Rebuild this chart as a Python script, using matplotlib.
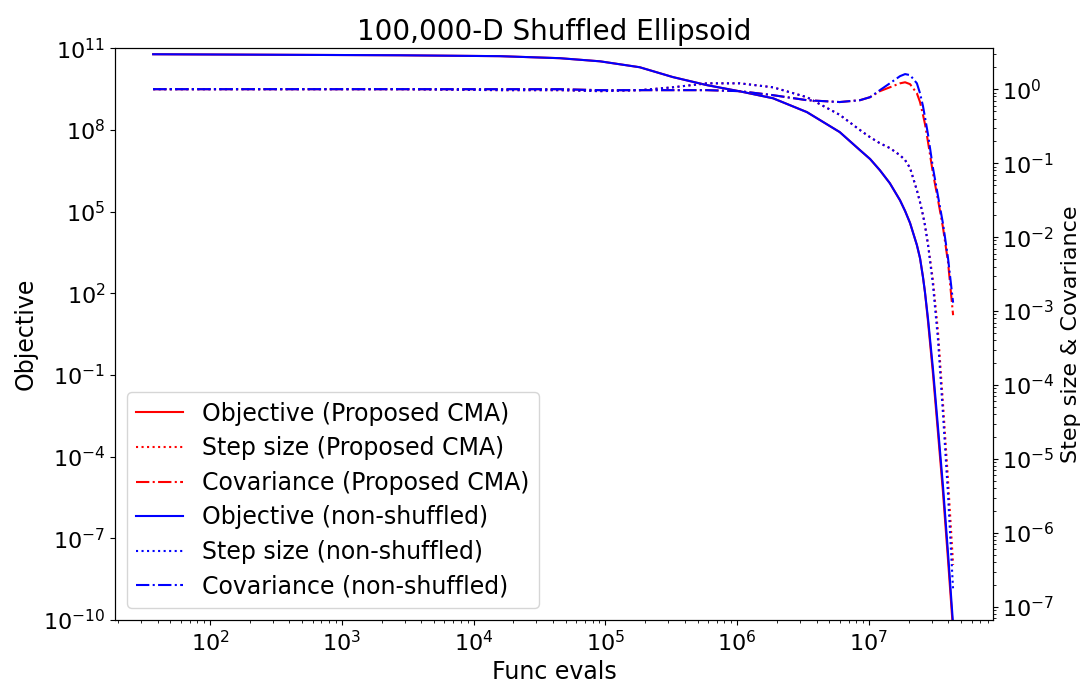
import numpy as np
import matplotlib
matplotlib.use('Agg')
import matplotlib.pyplot as plt

# function evaluations (shared grid for all traces)
evals = [37, 2.75e3, 1.58e4, 4.5e4, 9.1e4, 1.82e5, 3.25e5, 5.9e5, 1.05e6, 1.87e6,
         3.38e6, 6.0e6, 8.55e6, 1.02e7, 1.21e7, 1.44e7, 1.72e7, 1.88e7, 2.05e7,
         2.31e7, 2.44e7, 2.57e7, 2.66e7, 2.81e7, 3.06e7, 3.34e7, 3.65e7, 3.98e7, 4.35e7]

# proposed CMA (shuffled)
obj_prop = [6.0e10, 5.5e10, 5.1e10, 4.3e10, 3.3e10, 2.0e10, 8.7e9, 4.4e9, 2.6e9, 1.45e9,
            4.5e8, 8.3e7, 1.8e7, 8.5e6, 3.3e6, 1.1e6, 2.6e5, 1.05e5, 3.8e4,
            5.9e3, 1.95e3, 3.9e2, 1.1e2, 8.5, 0.11, 7.5e-4, 4.5e-6, 1.6e-8, 4.0e-11]
step_prop = [1.0, 1.0, 0.97, 0.97, 0.94, 0.97, 1.06, 1.2, 1.2, 1.06,
             0.78, 0.45, 0.28, 0.224, 0.186, 0.16, 0.128, 0.11, 0.086,
             0.043, 0.0297, 0.0198, 0.0145, 7.8e-3, 2.6e-3, 5.3e-4, 5.4e-5, 5.2e-6, 3.7e-7]
cov_prop = [1.0, 1.0, 1.0, 1.0, 0.97, 0.97, 0.97, 0.97, 0.94, 0.83,
            0.71, 0.67, 0.71, 0.78, 0.94, 1.06, 1.2, 1.24, 1.17,
            0.88, 0.67, 0.45, 0.34, 0.19, 0.073, 0.032, 0.0133, 4.6e-3, 8.8e-4]

# non-shuffled
obj_non = [6.0e10, 5.5e10, 5.1e10, 4.3e10, 3.3e10, 2.0e10, 8.7e9, 4.4e9, 2.6e9, 1.45e9,
           4.5e8, 8.3e7, 1.8e7, 8.5e6, 3.3e6, 1.1e6, 2.6e5, 1.05e5, 3.8e4,
           5.9e3, 1.95e3, 3.9e2, 1.1e2, 11, 0.166, 1.2e-3, 7.6e-6, 2.9e-8, 6.6e-11]
step_non = [1.0, 1.0, 0.97, 0.97, 0.94, 0.97, 1.06, 1.2, 1.2, 1.06,
            0.78, 0.45, 0.28, 0.224, 0.186, 0.16, 0.128, 0.11, 0.086,
            0.043, 0.0297, 0.0198, 0.0145, 7.8e-3, 2.24e-3, 4.1e-4, 3.9e-5, 3.3e-6, 1.7e-7]
cov_non = [1.0, 1.0, 1.0, 1.0, 0.97, 0.97, 0.97, 0.97, 0.94, 0.83,
           0.71, 0.67, 0.71, 0.78, 0.97, 1.2, 1.5, 1.6, 1.55,
           1.2, 0.88, 0.59, 0.42, 0.24, 0.086, 0.036, 0.015, 5.2e-3, 1.3e-3]

plt.rcParams['font.size'] = 16

fig = plt.figure(figsize=(10.85, 6.79), dpi=100)
ax = fig.add_axes([0.106, 0.087, 0.809, 0.842])
ax2 = ax.twinx()

l1, = ax.plot(evals, obj_prop, 'r-', lw=1.5, label='Objective (Proposed CMA)')
l4, = ax.plot(evals, obj_non, 'b-', lw=1.5, label='Objective (non-shuffled)')
l2, = ax2.plot(evals, step_prop, 'r:', lw=1.5, label='Step size (Proposed CMA)')
l3, = ax2.plot(evals, cov_prop, 'r-.', lw=1.5, label='Covariance (Proposed CMA)')
l5, = ax2.plot(evals, step_non, 'b:', lw=1.5, label='Step size (non-shuffled)')
l6, = ax2.plot(evals, cov_non, 'b-.', lw=1.5, label='Covariance (non-shuffled)')

ax.set_xscale('log')
ax.set_yscale('log')
ax2.set_yscale('log')
ax.set_xlim(19, 8.7e7)
ax.set_ylim(1e-10, 1e11)
ax.set_yticks(10.0 ** np.arange(-10, 12, 3))
ax.yaxis.set_minor_locator(matplotlib.ticker.NullLocator())
ax2.set_ylim(10 ** -7.176, 10 ** 0.554)

ax.set_xlabel('Func evals', fontsize=17)
ax.set_ylabel('Objective', fontsize=17)
ax2.set_ylabel('Step size & Covariance')
ax.set_title('100,000-D Shuffled Ellipsoid', fontsize=20)

lines = [l1, l2, l3, l4, l5, l6]
ax2.legend(lines, [l.get_label() for l in lines], loc='lower left',
           fontsize=17, labelspacing=0.45)

fig.savefig('out.png', dpi=100)
